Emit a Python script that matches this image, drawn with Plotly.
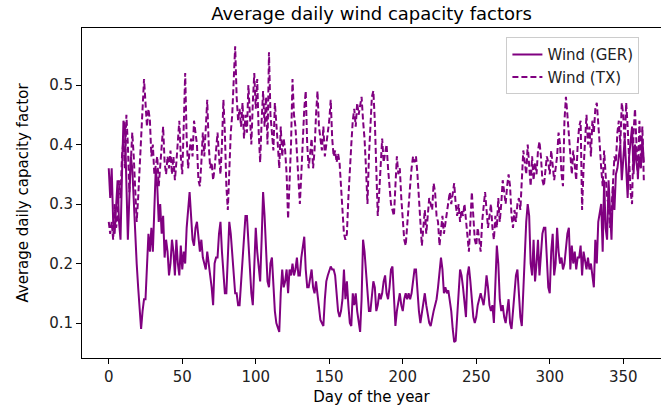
import plotly.graph_objects as go

# Average daily capacity factors, day 0..364
ger = [
    0.36, 0.31, 0.36, 0.27, 0.25, 0.30, 0.34, 0.27, 0.24, 0.35,
    0.44, 0.43, 0.33, 0.24, 0.31, 0.38, 0.36, 0.30, 0.26, 0.20,
    0.16, 0.12, 0.09, 0.12, 0.14, 0.14, 0.21, 0.25, 0.22, 0.26,
    0.22, 0.29, 0.36, 0.33, 0.27, 0.30, 0.25, 0.28, 0.21, 0.24,
    0.22, 0.18, 0.20, 0.24, 0.22, 0.18, 0.24, 0.20, 0.18, 0.23,
    0.19, 0.22, 0.20, 0.26, 0.30, 0.32, 0.28, 0.24, 0.23, 0.26,
    0.27, 0.25, 0.22, 0.24, 0.21, 0.20, 0.19, 0.22, 0.20, 0.19,
    0.16, 0.13, 0.20, 0.21, 0.21, 0.25, 0.27, 0.22, 0.19, 0.15,
    0.15, 0.22, 0.27, 0.25, 0.22, 0.18, 0.15, 0.15, 0.13, 0.13,
    0.17, 0.19, 0.24, 0.28, 0.28, 0.24, 0.18, 0.15, 0.13, 0.19,
    0.26, 0.22, 0.19, 0.17, 0.24, 0.32, 0.28, 0.23, 0.17, 0.16,
    0.20, 0.21, 0.16, 0.12, 0.10, 0.09, 0.085, 0.15, 0.19, 0.16,
    0.17, 0.19, 0.15, 0.19, 0.18, 0.20, 0.18, 0.19, 0.21, 0.18,
    0.18, 0.21, 0.23, 0.245, 0.19, 0.16, 0.16, 0.18, 0.19, 0.16,
    0.15, 0.17, 0.15, 0.13, 0.105, 0.10, 0.095, 0.14, 0.17, 0.18,
    0.19, 0.195, 0.19, 0.19, 0.18, 0.14, 0.12, 0.11, 0.12, 0.14,
    0.19, 0.14, 0.17, 0.13, 0.10, 0.095, 0.15, 0.13, 0.15, 0.12,
    0.10, 0.085, 0.14, 0.24, 0.22, 0.19, 0.16, 0.12, 0.12, 0.14,
    0.17, 0.16, 0.12, 0.13, 0.15, 0.14, 0.15, 0.17, 0.18, 0.15,
    0.14, 0.16, 0.19, 0.195, 0.14, 0.095, 0.12, 0.14, 0.15, 0.13,
    0.12, 0.14, 0.15, 0.14, 0.15, 0.14, 0.15, 0.17, 0.19, 0.19,
    0.15, 0.12, 0.10, 0.12, 0.14, 0.15, 0.13, 0.11, 0.10, 0.095,
    0.11, 0.12, 0.13, 0.14, 0.16, 0.18, 0.21, 0.19, 0.15, 0.16,
    0.15, 0.155, 0.14, 0.12, 0.09, 0.068, 0.07, 0.12, 0.15, 0.19,
    0.18, 0.16, 0.13, 0.11, 0.18, 0.195, 0.17, 0.13, 0.11, 0.10,
    0.11, 0.13, 0.14, 0.15, 0.14, 0.13, 0.15, 0.18, 0.16, 0.13,
    0.12, 0.13, 0.10, 0.16, 0.23, 0.20, 0.14, 0.12, 0.13, 0.11,
    0.10, 0.12, 0.14, 0.10, 0.09, 0.12, 0.15, 0.18, 0.19, 0.15,
    0.11, 0.095, 0.16, 0.22, 0.27, 0.30, 0.28, 0.20, 0.18, 0.24,
    0.17, 0.20, 0.24, 0.18, 0.22, 0.25, 0.26, 0.26, 0.21, 0.16,
    0.15, 0.22, 0.25, 0.18, 0.20, 0.26, 0.22, 0.20, 0.21, 0.19,
    0.20, 0.23, 0.25, 0.26, 0.19, 0.23, 0.20, 0.22, 0.19, 0.21,
    0.21, 0.23, 0.18, 0.22, 0.20, 0.19, 0.21, 0.19, 0.20, 0.18,
    0.16, 0.24, 0.20, 0.27, 0.29, 0.30, 0.22, 0.34, 0.26, 0.24,
    0.34, 0.28, 0.24, 0.33, 0.29, 0.35, 0.36, 0.38, 0.40, 0.34,
    0.38, 0.41, 0.36, 0.31, 0.38, 0.41, 0.43, 0.35, 0.40, 0.37,
    0.35, 0.38, 0.36, 0.41, 0.37,
]

tx = [
    0.27, 0.25, 0.27, 0.24, 0.30, 0.26, 0.28, 0.34, 0.31, 0.38,
    0.41, 0.36, 0.45, 0.40, 0.32, 0.36, 0.42, 0.38, 0.32, 0.27,
    0.31, 0.36, 0.40, 0.44, 0.51, 0.47, 0.43, 0.46, 0.44, 0.38,
    0.40, 0.35, 0.37, 0.38, 0.33, 0.36, 0.40, 0.43, 0.37, 0.35,
    0.38, 0.36, 0.39, 0.35, 0.38, 0.34, 0.37, 0.40, 0.44, 0.38,
    0.35, 0.43, 0.52, 0.41, 0.36, 0.39, 0.41, 0.38, 0.44, 0.42,
    0.40, 0.34, 0.33, 0.37, 0.42, 0.38, 0.43, 0.475, 0.40, 0.36,
    0.37, 0.34, 0.36, 0.40, 0.42, 0.38, 0.35, 0.40, 0.475, 0.42,
    0.33, 0.29, 0.36, 0.42, 0.45, 0.50, 0.565, 0.48, 0.44, 0.46,
    0.43, 0.47, 0.41, 0.45, 0.42, 0.50, 0.44, 0.40, 0.47, 0.52,
    0.46, 0.51, 0.42, 0.37, 0.44, 0.49, 0.43, 0.48, 0.40, 0.555,
    0.45, 0.42, 0.39, 0.47, 0.44, 0.40, 0.36, 0.43, 0.38, 0.41,
    0.39, 0.35, 0.275, 0.34, 0.40, 0.51, 0.45, 0.43, 0.39, 0.35,
    0.30, 0.35, 0.42, 0.46, 0.49, 0.40, 0.36, 0.38, 0.41, 0.36,
    0.39, 0.45, 0.49, 0.43, 0.41, 0.39, 0.43, 0.38, 0.40, 0.42,
    0.44, 0.475, 0.41, 0.38, 0.39, 0.37, 0.385, 0.37, 0.33, 0.29,
    0.25, 0.24, 0.25, 0.31, 0.37, 0.40, 0.44, 0.46, 0.43, 0.47,
    0.45, 0.47, 0.48, 0.44, 0.41, 0.36, 0.30, 0.38, 0.43, 0.48,
    0.49, 0.44, 0.36, 0.28, 0.32, 0.38, 0.41, 0.37, 0.39, 0.40,
    0.36, 0.33, 0.30, 0.29, 0.28, 0.33, 0.38, 0.35, 0.36, 0.31,
    0.27, 0.24, 0.23, 0.27, 0.30, 0.33, 0.36, 0.38, 0.37, 0.38,
    0.35, 0.30, 0.27, 0.23, 0.26, 0.29, 0.25, 0.28, 0.31, 0.30,
    0.29, 0.335, 0.32, 0.28, 0.27, 0.23, 0.26, 0.28, 0.25, 0.27,
    0.29, 0.30, 0.32, 0.30, 0.32, 0.335, 0.30, 0.28, 0.30, 0.27,
    0.29, 0.28, 0.30, 0.27, 0.25, 0.22, 0.27, 0.32, 0.28, 0.24,
    0.23, 0.26, 0.24, 0.22, 0.27, 0.30, 0.32, 0.29, 0.26, 0.28,
    0.30, 0.26, 0.24, 0.28, 0.26, 0.31, 0.27, 0.30, 0.34, 0.32,
    0.30, 0.33, 0.35, 0.33, 0.28, 0.26, 0.29, 0.27, 0.30, 0.31,
    0.29, 0.34, 0.39, 0.37, 0.35, 0.40, 0.36, 0.33, 0.38, 0.34,
    0.37, 0.35, 0.39, 0.405, 0.38, 0.34, 0.33, 0.36, 0.38, 0.37,
    0.35, 0.39, 0.36, 0.34, 0.36, 0.38, 0.42, 0.40, 0.35, 0.33,
    0.44, 0.48, 0.45, 0.41, 0.38, 0.35, 0.39, 0.37, 0.34, 0.40,
    0.43, 0.44, 0.29, 0.36, 0.42, 0.45, 0.40, 0.43, 0.38, 0.44,
    0.42, 0.46, 0.47, 0.44, 0.40, 0.36, 0.33, 0.39, 0.35, 0.31,
    0.30, 0.26, 0.29, 0.33, 0.38, 0.37, 0.42, 0.44, 0.40, 0.47,
    0.45, 0.40, 0.47, 0.43, 0.36, 0.32, 0.30, 0.42, 0.46, 0.41,
    0.34, 0.44, 0.38, 0.43, 0.34,
]

days = list(range(len(ger)))
x_ticks = [0, 50, 100, 150, 200, 250, 300, 350]
y_ticks = [0.1, 0.2, 0.3, 0.4, 0.5]

FONT = "DejaVu Sans"
COLOR = "#800080"
PX_PER_DAY = 1.47

fig = go.Figure()
fig.add_trace(go.Scatter(x=days, y=ger, mode="lines", name="Wind (GER)",
                         line=dict(color=COLOR, width=2)))
fig.add_trace(go.Scatter(x=list(range(len(tx))), y=tx, mode="lines", name="Wind (TX)",
                         line=dict(color=COLOR, width=2, dash="6px,3px")))

fig.update_layout(
    width=661, height=408,
    margin=dict(l=82, r=0, t=28, b=50),
    paper_bgcolor="white", plot_bgcolor="white",
    font=dict(family=FONT, size=15, color="black"),
    title=dict(text="Average daily wind capacity factors", x=0.562, xanchor="center",
               y=1 - 14 / 408, yanchor="middle", yref="container",
               font=dict(family=FONT, size=18, color="black")),
    showlegend=True,
    legend=dict(x=0.733, xanchor="left", y=0.972, yanchor="top",
                bgcolor="rgba(255,255,255,0.8)", bordercolor="#cccccc", borderwidth=1,
                font=dict(family=FONT, size=15, color="#222222"),
                tracegroupgap=0),
)
fig.update_xaxes(range=[-18.2, -18.2 + 579 / PX_PER_DAY], tickvals=x_ticks, ticks="outside",
                 ticklen=5, tickwidth=1, tickcolor="black", showline=True, linecolor="black",
                 linewidth=1, mirror=True, showgrid=False, zeroline=False,
                 title=dict(text="Day of the year", standoff=6,
                            font=dict(family=FONT, size=15)),
                 tickfont=dict(family=FONT, size=15, color="#222222"))
fig.update_yaxes(range=[0.0412, 0.5958], tickvals=y_ticks, ticktext=["0.1", "0.2", "0.3", "0.4", "0.5"],
                 ticks="outside", ticklen=5, tickwidth=1, tickcolor="black", showline=True,
                 linecolor="black", linewidth=1, mirror=False, showgrid=False, zeroline=False,
                 title=dict(text="Average daily capacity factor", standoff=16,
                            font=dict(family=FONT, size=15)),
                 tickfont=dict(family=FONT, size=15, color="#222222"))

fig.write_html("out.html")
